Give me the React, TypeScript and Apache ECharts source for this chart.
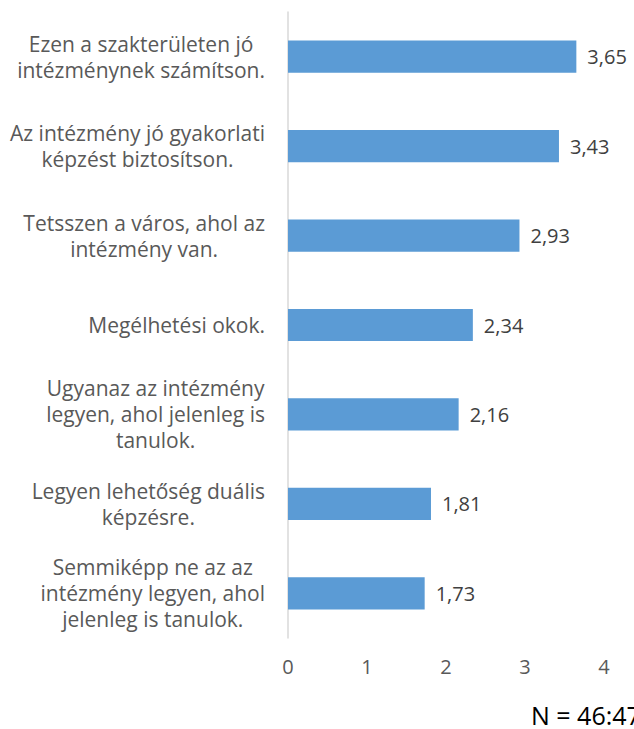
import React, { useEffect, useRef } from "react";
import * as echarts from "echarts";

const categories = [
  "Ezen a szakterületen jó\nintézménynek számítson.",
  "Az intézmény jó gyakorlati\nképzést biztosítson.",
  "Tetsszen a város, ahol az\nintézmény van.",
  "Megélhetési okok.",
  "Ugyanaz az intézmény\nlegyen, ahol jelenleg is\ntanulok.",
  "Legyen lehetőség duális\nképzésre.",
  "Semmiképp ne az az\nintézmény legyen, ahol\njelenleg is tanulok.",
];
const values = [3.65, 3.43, 2.93, 2.34, 2.16, 1.81, 1.73];
const noteText = "N = 46:47";

const FONT = "Open Sans";

export default function App() {
  const ref = useRef<HTMLDivElement>(null);
  useEffect(() => {
    if (!ref.current) return;
    const chart = echarts.init(ref.current, undefined, { renderer: "svg" });
    chart.setOption({
      animation: false,
      grid: { left: 288, right: 30, top: 12, bottom: 91, containLabel: false },
      xAxis: {
        type: "value",
        min: 0,
        max: 4,
        interval: 1,
        axisLine: { show: false },
        axisTick: { show: false },
        splitLine: { show: false },
        axisLabel: { color: "#595959", fontSize: 20, fontFamily: FONT, margin: 18 },
      },
      yAxis: {
        type: "category",
        inverse: true,
        data: categories,
        axisLine: { show: true, lineStyle: { color: "#d9d9d9", width: 1.5 } },
        axisTick: { show: false },
        axisLabel: {
          color: "#595959",
          fontSize: 21,
          fontFamily: FONT,
          margin: 23,
          lineHeight: 26,
          align: "right",
          formatter: (v: string) =>
            v
              .split("\n")
              .map((l) => `{c|${l}}`)
              .join("\n"),
          rich: {
            c: {
              align: "center",
              color: "#595959",
              fontSize: 21,
              fontFamily: FONT,
              lineHeight: 26,
            },
          },
        },
      },
      series: [
        {
          type: "bar",
          data: values,
          barWidth: "36%",
          itemStyle: { color: "#5b9bd5" },
          label: {
            show: true,
            position: "right",
            distance: 11,
            color: "#404040",
            fontSize: 20,
            fontFamily: FONT,
            formatter: (p: any) => p.value.toFixed(2).replace(".", ","),
          },
        },
      ],
      graphic: [
        {
          type: "text",
          left: 531,
          top: 702,
          style: { text: noteText, fontSize: 25, fontFamily: FONT, fill: "#000000" },
        },
      ],
    });
    return () => chart.dispose();
  }, []);
  return (
    <div
      ref={ref}
      style={{ position: "fixed", left: 0, top: 0, width: 634, height: 729, background: "#fff" }}
    />
  );
}
